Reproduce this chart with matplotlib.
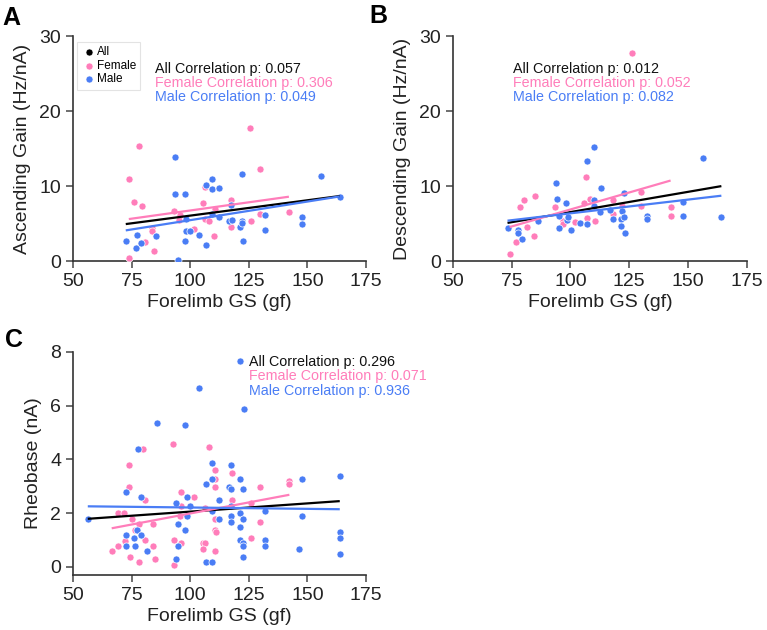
import numpy as np
import matplotlib
matplotlib.use("Agg")
from matplotlib import pyplot as plt

plt.rcParams['font.family'] = ['Liberation Sans', 'DejaVu Sans']

PINK = '#FF7DBA'
BLUE = '#4A7DF5'
AXC = '#333333'

# --- panel A: ascending gain ---
a_f_x = [73.9, 78.0, 76.2, 79.5, 73.8, 83.9, 83.9, 80.8, 84.6, 93.0, 95.6, 95.3, 101.5,
         106.4, 105.4, 106.5, 107.9, 110.2, 110.6, 117.6, 117.5, 125.7, 125.9, 129.7, 129.8, 142.1]
a_f_y = [10.9, 15.3, 7.9, 7.4, 0.45, 4.4, 4.0, 2.5, 1.3, 6.7, 6.2, 5.5, 4.3,
         9.9, 7.8, 5.6, 5.3, 3.3, 7.0, 8.1, 4.5, 17.8, 5.4, 12.3, 6.3, 6.6]
a_m_x = [72.5, 76.9, 77.5, 78.9, 85.6, 93.7, 93.7, 94.8, 97.7, 98.4, 98.3, 99.7, 97.7,
         103.7, 106.6, 106.6, 109.4, 109.2, 112.2, 109.5, 112.4, 117.5, 116.5, 117.8,
         121.3, 121.9, 122.3, 122.3, 122.7, 132.0, 132.0, 147.8, 147.8, 155.9, 163.8]
a_m_y = [2.7, 1.7, 3.5, 2.4, 3.3, 13.9, 9.0, 0.2, 9.0, 5.6, 4.0, 4.0, 2.7,
         3.5, 2.2, 10.2, 11.0, 9.6, 9.7, 6.3, 5.9, 7.5, 5.4, 5.5,
         4.6, 5.3, 5.1, 11.6, 2.7, 6.2, 4.2, 5.9, 5.0, 11.4, 8.6]
a_p = ['0.057', '0.306', '0.049']

# --- panel B: descending gain ---
b_f_x = [74.1, 76.8, 78.5, 80.1, 81.3, 84.5, 85.1, 93.6, 96.6, 96.6, 102.0, 105.8,
         106.8, 106.9, 108.2, 110.5, 118.0, 118.0, 121.9, 126.3, 130.1, 130.1, 142.6, 142.6]
b_f_y = [0.93, 2.6, 7.2, 8.2, 4.5, 3.3, 8.7, 7.2, 5.3, 4.9, 5.2, 7.8,
         11.2, 5.8, 8.3, 5.3, 8.1, 6.3, 7.3, 27.7, 9.2, 7.4, 7.2, 6.0]
b_m_x = [73.2, 77.8, 77.6, 79.5, 86.1, 94.0, 94.2, 95.2, 95.3, 98.0, 98.4, 99.0, 100.3,
         104.1, 107.2, 107.2, 109.8, 109.8, 109.9, 112.8, 112.6, 117.0, 118.0, 121.4,
         121.9, 121.7, 122.6, 122.9, 123.3, 132.5, 132.5, 148.0, 148.0, 156.4, 164.2]
b_m_y = [4.4, 4.1, 3.8, 3.0, 5.4, 10.4, 8.3, 6.0, 4.4, 7.8, 5.5, 5.9, 4.1,
         5.1, 13.4, 4.9, 15.2, 8.2, 7.4, 9.8, 6.6, 6.8, 5.6, 5.6,
         6.7, 4.7, 9.1, 5.9, 3.7, 6.0, 5.6, 7.9, 6.0, 13.8, 5.9]
b_p = ['0.012', '0.052', '0.082']

# --- panel C: rheobase ---
c_f_x = [66.5, 69.0, 69.0, 71.9, 72.3, 73.9, 73.9, 74.1, 75.0, 76.4, 78.1, 78.1, 79.8,
         80.5, 80.8, 84.1, 84.1, 84.8, 92.8, 93.0, 93.0, 96.0, 96.0, 96.0, 95.7, 101.7,
         105.4, 106.4, 105.4, 106.5, 108.1, 110.4, 110.7, 110.7, 110.4, 110.4, 111.1, 110.4,
         117.8, 117.8, 126.0, 126.0, 129.8, 129.8, 142.3, 142.3]
c_f_y = [0.60, 1.99, 0.78, 1.99, 0.98, 3.78, 2.99, 0.38, 1.79, 1.39, 0.19, 1.59, 4.38,
         2.48, 0.99, 1.59, 0.78, 0.29, 4.58, 0.99, 0.09, 2.79, 2.28, 0.88, 1.89, 2.59,
         0.88, 0.88, 0.68, 2.18, 4.48, 2.99, 3.59, 3.29, 1.79, 1.39, 1.29, 0.58,
         3.49, 2.48, 2.38, 1.08, 2.99, 1.69, 3.19, 3.09]
c_m_x = [56.3, 72.7, 72.7, 72.7, 76.0, 76.4, 77.6, 77.1, 79.1, 79.1, 81.4, 85.8, 93.9,
         93.9, 94.9, 95.0, 97.9, 97.9, 98.6, 98.6, 99.9, 103.8, 106.7, 106.7, 109.5, 109.5,
         109.5, 109.5, 112.4, 112.4, 116.6, 117.6, 117.6, 117.6, 117.6, 117.6, 121.4, 121.4,
         121.4, 121.4, 122.4, 122.4, 122.4, 122.4, 122.4, 122.9, 121.4, 132.1, 132.1, 132.1,
         147.9, 147.9, 146.4, 163.8, 163.8, 163.8, 163.8]
c_m_y = [1.77, 2.79, 1.19, 0.78, 1.08, 0.78, 4.38, 1.39, 2.59, 1.19, 0.58, 5.37, 2.38,
         0.29, 0.78, 1.59, 5.27, 1.39, 2.59, 1.89, 2.28, 6.67, 3.09, 0.19, 3.88, 3.29,
         2.08, 0.19, 2.48, 1.79, 2.99, 3.78, 2.89, 2.28, 1.89, 1.69, 3.29, 1.99,
         1.49, 0.99, 0.88, 0.78, 0.38, 2.89, 1.79, 5.88, 7.65, 2.08, 0.99, 0.78,
         3.29, 1.89, 0.68, 3.39, 1.29, 1.08, 0.48]
c_p = ['0.296', '0.071', '0.936']

x_ticks = [50, 75, 100, 125, 150, 175]


def fit_line(ax, x, y, color):
    x = np.asarray(x)
    y = np.asarray(y)
    k, d = np.polyfit(x, y, 1)
    xs = np.array([x.min(), x.max()])
    ax.plot(xs, k * xs + d, color=color, lw=1.6, zorder=4, solid_capstyle='butt')


def panel(ax, fx, fy, mx, my, pvals, ylabel, ylim, yticks, txt_x, txt_y):
    ax.scatter(fx, fy, s=26, color=PINK, edgecolor='white', linewidth=0.5, zorder=3)
    ax.scatter(mx, my, s=26, color=BLUE, edgecolor='white', linewidth=0.5, zorder=3)
    fit_line(ax, fx + mx, fy + my, 'black')
    fit_line(ax, fx, fy, PINK)
    fit_line(ax, mx, my, BLUE)
    ax.set_xlim(50, 175)
    ax.set_ylim(*ylim)
    ax.set_xticks(x_ticks)
    ax.set_yticks(yticks)
    ax.set_xlabel('Forelimb GS (gf)', fontsize=14, color='#222222', labelpad=3)
    ax.set_ylabel(ylabel, fontsize=14, color='#222222', labelpad=6)
    ax.tick_params(labelsize=14, length=5, width=1.2, color='#555555', labelcolor='#222222')
    for s in ['top', 'right']:
        ax.spines[s].set_visible(False)
    for s in ['left', 'bottom']:
        ax.spines[s].set_color(AXC)
        ax.spines[s].set_linewidth(1.2)
    labels = ['All Correlation p: ', 'Female Correlation p: ', 'Male Correlation p: ']
    colors = ['#111111', PINK, BLUE]
    for i in range(3):
        ax.text(txt_x, txt_y[i], labels[i] + pvals[i], color=colors[i], fontsize=10.3,
                transform=ax.transAxes, va='center', ha='left')


fig = plt.figure(figsize=(7.67, 6.3), dpi=100)
axA = fig.add_axes([0.0952, 0.5857, 0.382, 0.357])
axB = fig.add_axes([0.5906, 0.5857, 0.383, 0.357])
axC = fig.add_axes([0.0952, 0.0873, 0.382, 0.354])

panel(axA, a_f_x, a_f_y, a_m_x, a_m_y, a_p, 'Ascending Gain (Hz/nA)', (0, 30),
      [0, 10, 20, 30], 0.28, [0.853, 0.791, 0.729])
panel(axB, b_f_x, b_f_y, b_m_x, b_m_y, b_p, 'Descending Gain (Hz/nA)', (0, 30),
      [0, 10, 20, 30], 0.204, [0.853, 0.791, 0.729])
panel(axC, c_f_x, c_f_y, c_m_x, c_m_y, c_p, 'Rheobase (nA)', (-0.3, 8),
      [0, 2, 4, 6, 8], 0.60, [0.955, 0.892, 0.825])

# legend in panel A
h = [axA.scatter([], [], s=26, color=c, edgecolor='white', linewidth=0.5) for c in ['black', PINK, BLUE]]
leg = axA.legend(h, ['All', 'Female', 'Male'], loc='upper left', bbox_to_anchor=(0.015, 0.975),
                 fontsize=8.5, handletextpad=0.1, borderpad=0.35, labelspacing=0.15,
                 handlelength=1.2, frameon=True, fancybox=False, borderaxespad=0)
leg.get_frame().set_edgecolor('#dddddd')
leg.get_frame().set_linewidth(0.8)

for letter, (x, y) in zip('ABC', [(0.003, 0.972), (0.481, 0.975), (0.007, 0.46)]):
    fig.text(x, y, letter, fontsize=18, fontweight='bold', va='center', ha='left')

fig.savefig('out.png', dpi=100)
